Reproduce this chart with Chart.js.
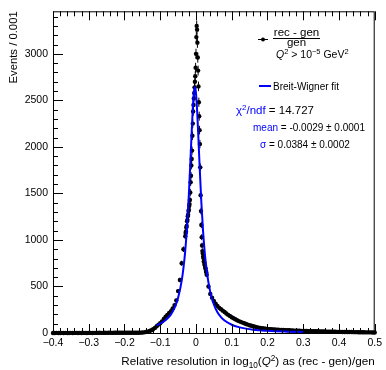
<!DOCTYPE html>
<html>
<head>
<meta charset="utf-8">
<script src="https://cdn.jsdelivr.net/npm/chart.js@4.4.1/dist/chart.umd.min.js"></script>
<style>
  html, body { margin: 0; padding: 0; background: #fff; }
</style>
</head>
<body>
<canvas id="resChart" width="386" height="370"></canvas>
<script>
// histogram: 0.005 samples in the tails, 0.001 bins in the core
const leftTailStart = -0.4;
const leftTailCounts = [
  0, 0, 1, 0, 0, 1, 0, 1, 0, 0,
  1, 0, 1, 1, 0, 1, 0, 1, 1, 0,
  1, 1, 0, 1, 1, 1, 2, 1, 1, 2,
  1, 2, 2, 1, 2, 2, 2, 3, 2, 2,
  3, 2, 3, 3, 2, 3, 3, 3,
  3, 4, 5, 7, 10, 15, 22, 30, 40, 55,
  72, 90, 105, 125, 150, 175, 195, 215, 235, 265,
  300, 350, 450, 570, 750, 900
];
const coreStart = -0.03;
const coreCounts = [
  1040, 1075, 1090, 1135, 1150, 1200, 1215, 1255, 1270, 1310,
  1325, 1365, 1385, 1430, 1510, 1620, 1690, 1800, 1870, 1960,
  2120, 2250, 2380, 2450, 2520, 2580, 2640, 2700, 2760, 2850,
  3000,
  3180, 3300, 3260, 3120, 2960, 2820, 2650, 2480, 2330, 2180,
  2030, 1780, 1480, 1310, 1160, 1030, 940, 880, 855, 820,
  805, 770, 760, 735, 725, 700, 690, 665, 650, 625
];
const rightTailStart = 0.035;
const rightTailCounts = [
  500, 420, 380, 345, 315, 290, 270, 255, 240, 225,
  210, 195, 182, 170, 158, 147, 137, 128, 120, 112,
  104, 97, 90, 84, 78, 73, 68, 63, 58, 54,
  51, 48, 46, 44, 42, 40, 38, 37, 36, 35,
  34, 33, 32, 31, 30, 29, 28, 27, 26, 25,
  25, 24, 23, 22, 22, 21, 20, 20, 19, 19,
  18, 18, 17, 17,
  16, 16, 15, 15, 14, 14, 13, 13, 12, 12,
  12, 11, 11, 11, 10, 10, 10, 9, 9, 9,
  8, 8, 8, 8, 7, 7, 7, 7, 6, 6
];

// Breit-Wigner fit curve
const fitX = [-0.11, -0.10, -0.09, -0.08, -0.07, -0.06, -0.05, -0.04, -0.035, -0.03,
  -0.025, -0.02, -0.015, -0.01, -0.007, -0.005, -0.003, -0.001, 0.001, 0.004,
  0.007, 0.01, 0.015, 0.02, 0.025, 0.03, 0.04, 0.05, 0.06, 0.07,
  0.08, 0.1, 0.12, 0.14, 0.16, 0.18, 0.2, 0.25, 0.3];
const fitY = [82, 100, 123, 155, 200, 269, 378, 560, 699, 886,
  1141, 1480, 1898, 2330, 2530, 2612, 2640, 2612, 2530, 2330,
  2077, 1811, 1405, 1084, 844, 668, 439, 306, 224, 171,
  134, 89, 63, 47, 36, 29, 23, 15, 11];

const xTicks = [-0.4, -0.3, -0.2, -0.1, 0, 0.1, 0.2, 0.3, 0.4, 0.5];
const yTicks = [0, 500, 1000, 1500, 2000, 2500, 3000];

const FONT = '"Liberation Sans", Arial, sans-serif';
const BLUE = '#0000ff';

function binPoints(start, step, counts) {
  return counts.map((c, i) => ({ x: +(start + i * step).toFixed(4), y: c }));
}
const dataPoints = [
  ...binPoints(leftTailStart, 0.005, leftTailCounts),
  ...binPoints(coreStart, 0.001, coreCounts),
  ...binPoints(rightTailStart, 0.005, rightTailCounts)
];
const fitPoints = fitX.map((x, i) => ({ x, y: fitY[i] }));

// draw a run of text pieces (sub/superscripts, italics) starting at x
function drawRuns(ctx, runs, x, y, align) {
  let total = 0;
  runs.forEach(r => { ctx.font = r.font; total += ctx.measureText(r.t).width; });
  let cx = align === 'right' ? x - total : align === 'center' ? x - total / 2 : x;
  ctx.textAlign = 'left';
  ctx.textBaseline = 'alphabetic';
  runs.forEach(r => {
    ctx.font = r.font;
    ctx.fillStyle = r.color || '#000';
    ctx.fillText(r.t, cx, y + (r.dy || 0));
    cx += ctx.measureText(r.t).width;
  });
}

const rootStyle = {
  id: 'rootStyle',
  beforeDatasetsDraw(chart) {
    // vertical error bars, sqrt(N)
    const { ctx, scales: { x, y } } = chart;
    ctx.save();
    ctx.strokeStyle = '#000';
    ctx.lineWidth = 1;
    ctx.beginPath();
    dataPoints.forEach(p => {
      if (p.y <= 0) return;
      const e = Math.sqrt(p.y);
      const px = x.getPixelForValue(p.x);
      ctx.moveTo(px, y.getPixelForValue(p.y - e));
      ctx.lineTo(px, y.getPixelForValue(p.y + e));
    });
    ctx.stroke();
    ctx.restore();
  },
  afterDraw(chart) {
    const { ctx, chartArea: a, scales: { x, y } } = chart;
    ctx.save();
    ctx.strokeStyle = '#000';
    ctx.lineWidth = 1;

    // frame
    ctx.strokeRect(a.left + 0.5, a.top + 0.5, a.right - a.left - 1, a.bottom - a.top);

    // inward ticks
    ctx.beginPath();
    for (let v = 0; v <= 3400; v += 100) {
      const py = Math.round(y.getPixelForValue(v)) + 0.5;
      const len = v % 500 === 0 ? 10 : 5;
      ctx.moveTo(a.left, py);
      ctx.lineTo(a.left + len, py);
    }
    for (let i = 0; i <= 45; i++) {
      const v = -0.4 + i * 0.02;
      const px = Math.round(x.getPixelForValue(v)) + 0.5;
      const len = i % 5 === 0 ? 9 : 5;
      ctx.moveTo(px, a.bottom);
      ctx.lineTo(px, a.bottom - len);
      ctx.moveTo(px, a.top);
      ctx.lineTo(px, a.top + len);
    }
    ctx.stroke();

    // axis titles
    const t11 = '11.7px ' + FONT;
    const s8 = '8.2px ' + FONT;
    drawRuns(ctx, [
      { t: 'Relative resolution in log', font: t11 },
      { t: '10', font: s8, dy: 3 },
      { t: '(', font: t11 },
      { t: 'Q', font: 'italic 11.7px ' + FONT },
      { t: '2', font: s8, dy: -4.5 },
      { t: ') as (rec - gen)/gen', font: t11 }
    ], a.right, 365, 'right');

    ctx.save();
    ctx.translate(17, a.top);
    ctx.rotate(-Math.PI / 2);
    ctx.font = '11.3px ' + FONT;
    ctx.fillStyle = '#000';
    ctx.textAlign = 'right';
    ctx.textBaseline = 'alphabetic';
    ctx.fillText('Events / 0.001', 0, 0);
    ctx.restore();

    // legend
    const f10 = '10px ' + FONT;
    const f115 = '11.5px ' + FONT;
    const s7 = '7.5px ' + FONT;
    ctx.beginPath();
    ctx.moveTo(258, 39.5);
    ctx.lineTo(268, 39.5);
    ctx.stroke();
    ctx.beginPath();
    ctx.arc(263, 39.5, 2, 0, Math.PI * 2);
    ctx.fillStyle = '#000';
    ctx.fill();

    drawRuns(ctx, [{ t: 'rec - gen', font: f115 }], 296.5, 35.5, 'center');
    ctx.beginPath();
    ctx.moveTo(273, 38.5);
    ctx.lineTo(320, 38.5);
    ctx.stroke();
    drawRuns(ctx, [{ t: 'gen', font: f115 }], 296.5, 46, 'center');

    drawRuns(ctx, [
      { t: 'Q', font: 'italic 10.5px ' + FONT },
      { t: '2', font: s7, dy: -4 },
      { t: ' > 10', font: '10.5px ' + FONT },
      { t: '\u22125', font: s7, dy: -4 },
      { t: ' GeV', font: '10.5px ' + FONT },
      { t: '2', font: s7, dy: -4 }
    ], 276, 58, 'left');

    ctx.strokeStyle = BLUE;
    ctx.lineWidth = 2;
    ctx.beginPath();
    ctx.moveTo(259, 86);
    ctx.lineTo(271, 86);
    ctx.stroke();
    drawRuns(ctx, [{ t: 'Breit-Wigner fit', font: f10 }], 273, 89.5, 'left');

    // fit results
    drawRuns(ctx, [
      { t: '\u03c7', font: f115, color: BLUE },
      { t: '2', font: '8px ' + FONT, color: BLUE, dy: -4.5 },
      { t: '/ndf', font: f115, color: BLUE },
      { t: ' = 14.727', font: f115 }
    ], 236, 114, 'left');
    drawRuns(ctx, [
      { t: 'mean', font: f10, color: BLUE },
      { t: ' = -0.0029 \u00b1 0.0001', font: f10 }
    ], 253, 131, 'left');
    drawRuns(ctx, [
      { t: '\u03c3', font: f10, color: BLUE },
      { t: ' = 0.0384 \u00b1 0.0002', font: f10 }
    ], 260, 148, 'left');

    ctx.restore();
  }
};

const tickFont = { family: FONT, size: 10.5 };

new Chart(document.getElementById('resChart'), {
  type: 'scatter',
  data: {
    datasets: [
      {
        label: 'Breit-Wigner fit',
        data: fitPoints,
        showLine: true,
        borderColor: BLUE,
        borderWidth: 2,
        pointRadius: 0,
        cubicInterpolationMode: 'monotone',
        fill: false
      },
      {
        label: '(rec - gen)/gen',
        data: dataPoints,
        showLine: false,
        pointRadius: 2.2,
        pointBorderWidth: 0,
        pointBackgroundColor: '#000',
        clip: 3
      }
    ]
  },
  options: {
    responsive: false,
    animation: false,
    events: [],
    layout: { padding: { left: 0, right: 9, top: 8, bottom: 0 } },
    plugins: {
      legend: { display: false },
      tooltip: { enabled: false }
    },
    scales: {
      x: {
        type: 'linear',
        min: -0.4,
        max: 0.5,
        afterBuildTicks: s => { s.ticks = xTicks.map(v => ({ value: v })); },
        afterFit: s => { s.height = 37; },
        grid: { display: false, drawTicks: false },
        border: { display: false },
        ticks: {
          padding: 4,
          color: '#000',
          font: tickFont,
          maxRotation: 0,
          autoSkip: false,
          callback: v => (v === 0 ? '0' : v.toFixed(1).replace('-', '\u2212'))
        }
      },
      y: {
        type: 'linear',
        min: 0,
        max: 3457,
        afterBuildTicks: s => { s.ticks = yTicks.map(v => ({ value: v })); },
        afterFit: s => { s.width = 53; },
        grid: { display: false, drawTicks: false },
        border: { display: false },
        ticks: {
          padding: 5,
          color: '#000',
          font: tickFont,
          autoSkip: false,
          callback: v => String(v)
        }
      }
    }
  },
  plugins: [rootStyle]
});
</script>
</body>
</html>
